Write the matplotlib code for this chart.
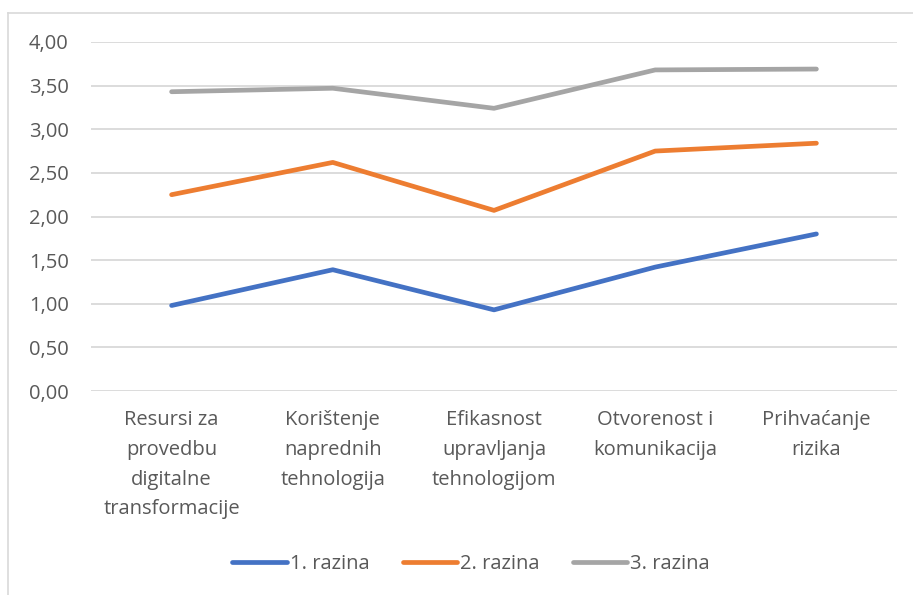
import matplotlib.pyplot as plt
from matplotlib.lines import Line2D

# Podaci
kategorije = ['Resursi za\nprovedbu\ndigitalne\ntransformacije',
              'Korištenje\nnaprednih\ntehnologija',
              'Efikasnost\nupravljanja\ntehnologijom',
              'Otvorenost i\nkomunikacija',
              'Prihvaćanje\nrizika']
razina1 = [0.98, 1.39, 0.93, 1.42, 1.80]
razina2 = [2.25, 2.62, 2.07, 2.75, 2.84]
razina3 = [3.43, 3.47, 3.24, 3.68, 3.69]
serije = ['1. razina', '2. razina', '3. razina']
boje = ['#4472C4', '#ED7D31', '#A5A5A5']

plt.rcParams['font.family'] = ['Open Sans', 'DejaVu Sans']
tekst = '#595959'

W, H = 913, 595
fig = plt.figure(figsize=(W / 100, H / 100), dpi=100)
ax = fig.add_axes([91 / W, 1 - 391 / H, (897 - 91) / W, (391 - 42) / H])

x = range(len(kategorije))
for vals, name, c in zip([razina1, razina2, razina3], serije, boje):
    ax.plot(x, vals, color=c, linewidth=3.4, label=name, solid_capstyle='round')

ax.set_xlim(-0.5, len(kategorije) - 0.5)
ax.set_ylim(0, 4)
ax.set_yticks([i * 0.5 for i in range(9)])
ax.set_yticklabels([f'{i * 0.5:.2f}'.replace('.', ',') for i in range(9)])
ax.set_xticks(list(x))
ax.set_xticklabels(kategorije, linespacing=1.64)
ax.tick_params(axis='both', length=0, labelsize=14.5, colors=tekst)
ax.tick_params(axis='x', pad=14)
ax.tick_params(axis='y', pad=16)
ax.grid(axis='y', color='#D9D9D9', linewidth=1.3)
ax.set_axisbelow(True)
for s in ax.spines.values():
    s.set_visible(False)

ax.legend(loc='center', bbox_to_anchor=(471 / W, 1 - 564 / H), bbox_transform=fig.transFigure,
          ncol=3, frameon=False, fontsize=14.5, labelcolor=tekst,
          handlelength=2.7, handletextpad=0.15, columnspacing=1.65)

# okvir grafikona
fig.add_artist(Line2D([8 / W, 1], [1 - 13 / H, 1 - 13 / H], color='#D9D9D9', linewidth=1.2))
fig.add_artist(Line2D([8 / W, 8 / W], [0, 1 - 13 / H], color='#D9D9D9', linewidth=1.2))

fig.savefig('out.png', dpi=100)
